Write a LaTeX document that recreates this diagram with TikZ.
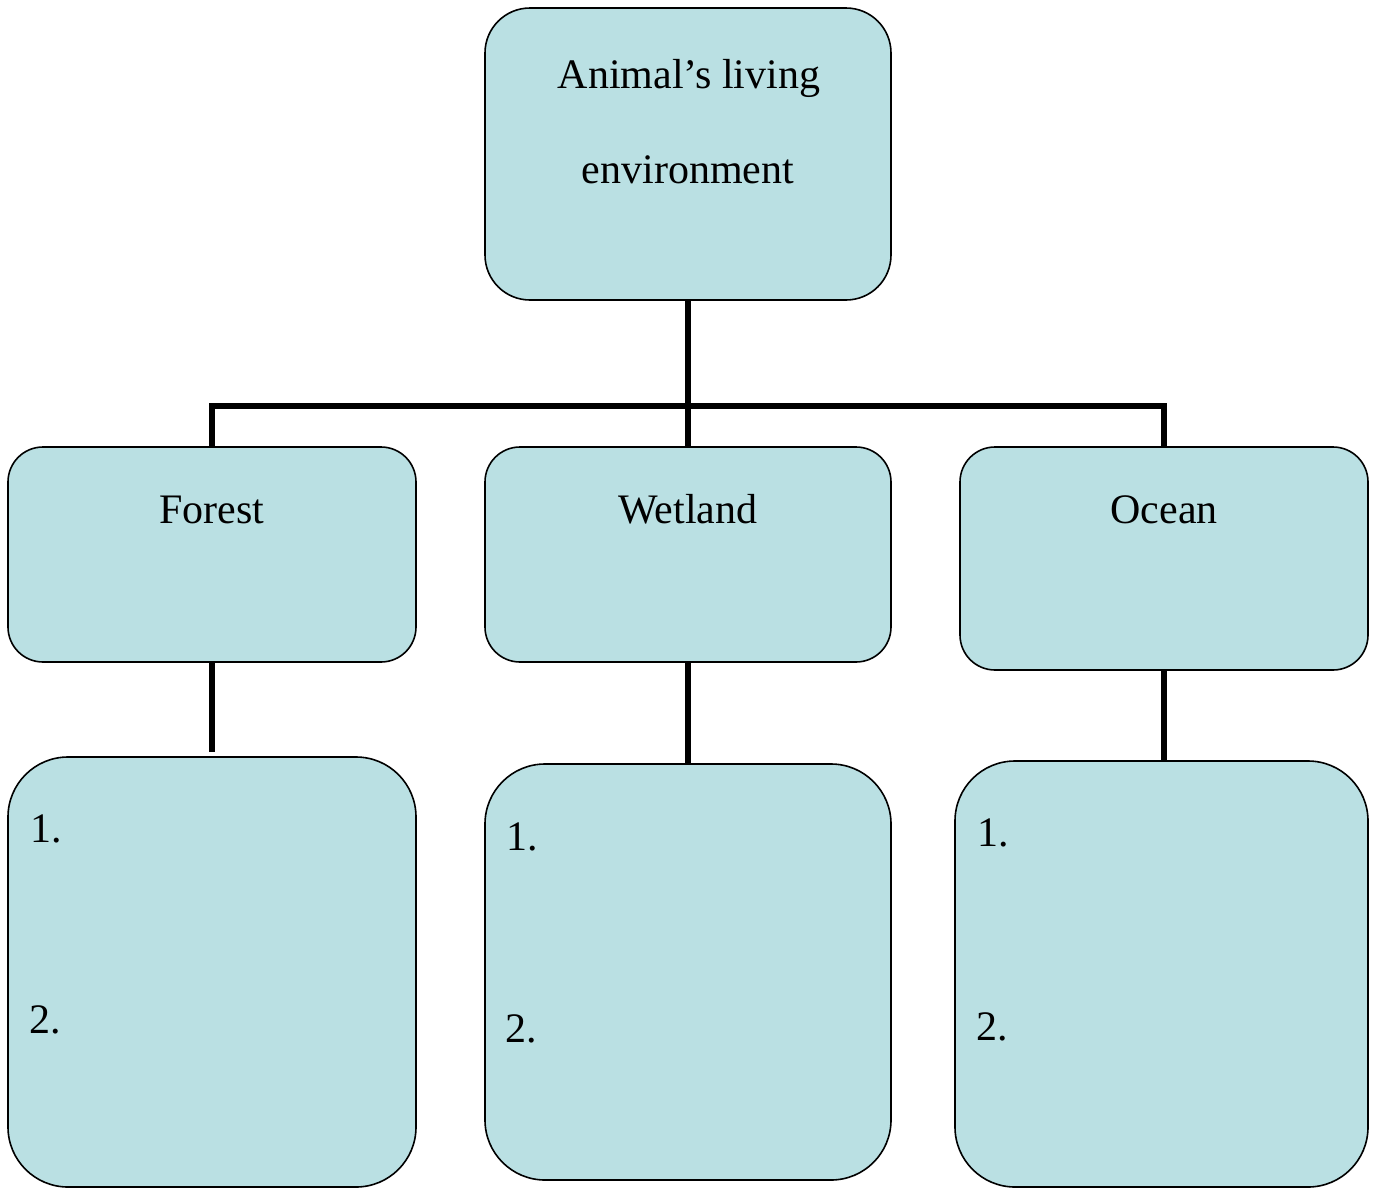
\documentclass[tikz,border=0pt]{standalone}
\usepackage{fontspec}
\setmainfont{Liberation Serif}
\definecolor{boxfill}{RGB}{186,224,227}
\begin{document}
\begin{tikzpicture}[x=1pt,y=-1pt,
  box/.style={draw=black,line width=1.6pt,fill=boxfill,rectangle,inner sep=0pt,outer sep=0pt},
  lbl/.style={inner sep=0pt,anchor=base,font=\fontsize{42}{50}\selectfont},
  num/.style={inner sep=0pt,anchor=base west,font=\fontsize{42}{50}\selectfont},
  conn/.style={draw=black,line width=6.5pt}]
\useasboundingbox (0,0) rectangle (1379,1189);
\fill[white] (0,0) rectangle (1379,1189);
% boxes
\node[box,rounded corners=45pt,minimum width=406pt,minimum height=292pt] (top) at (688,154) {};
\node[box,rounded corners=35pt,minimum width=408pt,minimum height=215pt] (forest) at (212,554.5) {};
\node[box,rounded corners=35pt,minimum width=406pt,minimum height=215pt] (wet) at (688,554.5) {};
\node[box,rounded corners=35pt,minimum width=408pt,minimum height=223pt] (ocean) at (1164,558.5) {};
\node[box,rounded corners=60pt,minimum width=408pt,minimum height=430pt] (flist) at (212,972) {};
\node[box,rounded corners=60pt,minimum width=406pt,minimum height=416pt] (wlist) at (688,972) {};
\node[box,rounded corners=60pt,minimum width=413pt,minimum height=426pt] (olist) at (1161.5,974) {};
% connectors
\coordinate (hub) at (688,406);
\coordinate (fend) at (212,752);
\draw[conn] (top.south) -- (wet.north);
\draw[conn] (forest.north) |- (hub) -| (ocean.north);
\draw[conn] (forest.south) -- (fend);
\draw[conn] (wet.south) -- (wlist.north);
\draw[conn] (ocean.south) -- (ocean.south |- olist.north);
% texts
\node[lbl] (t1) at (689,88) {Animal’s living};
\node[lbl] (t2) at (688,183) {environment};
\node[lbl] (tf) at (212,523) {Forest};
\node[lbl] (tw) at (688,523) {Wetland};
\node[lbl] (to) at (1164,523) {Ocean};
\node[num] (f1) at (30,842) {1.};
\node[num] (f2) at (29,1033) {2.};
\node[num] (w1) at (506,850) {1.};
\node[num] (w2) at (505,1042) {2.};
\node[num] (o1) at (977,846) {1.};
\node[num] (o2) at (976,1040) {2.};
\end{tikzpicture}
\end{document}
